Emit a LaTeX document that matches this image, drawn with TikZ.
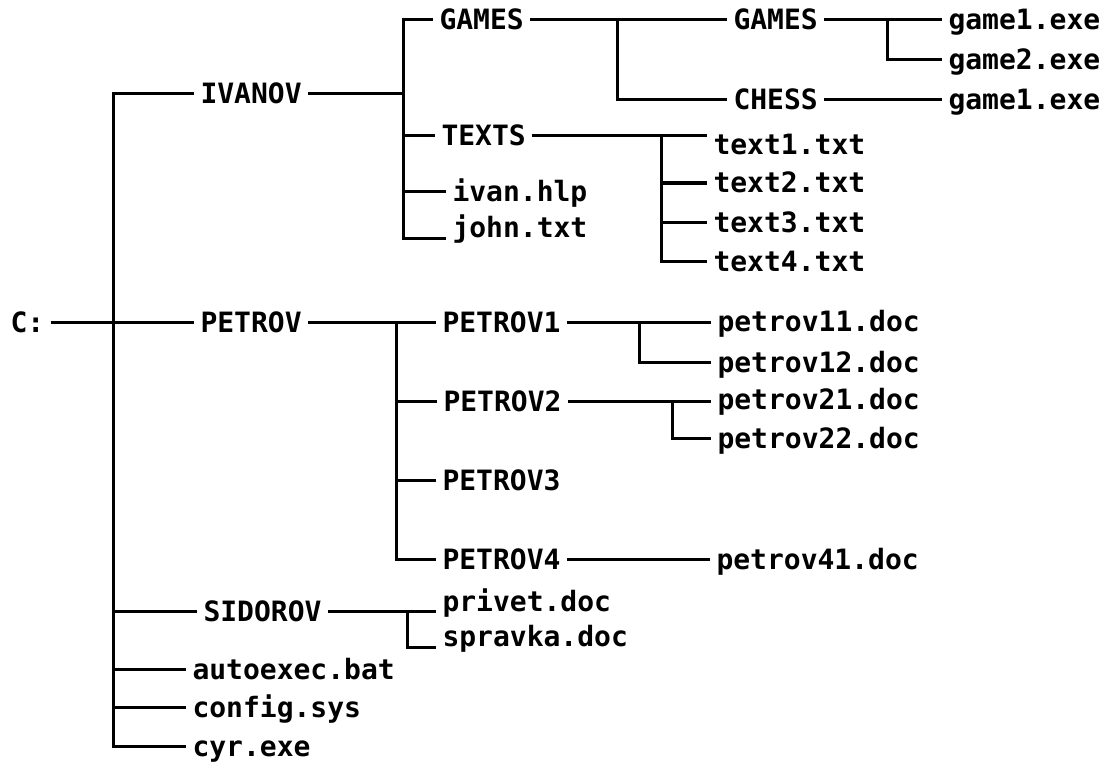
\documentclass[tikz,border=0pt]{standalone}
\usepackage{fontspec}
\newfontfamily\dosfont{DejaVu Sans Mono}
\usetikzlibrary{calc,positioning}

\begin{document}
\begin{tikzpicture}[x=1pt,y=-1pt,line width=3pt,
	entry/.style={anchor=west,inner xsep=5pt,inner ysep=0pt,text height=20pt,text depth=0pt,
		font=\fontsize{28}{30}\selectfont\dosfont\bfseries}
	]
	\useasboundingbox (0,0) rectangle (1106,765);

	% root and first level
	\node[entry] (croot) at (4,322) {C:};
	\node[entry] (ivanov) at (194,94) {IVANOV};
	\node[entry] (petrov) at (194,322) {PETROV};
	\node[entry] (sidorov) at (197,611) {SIDOROV};
	\node[entry] (autoexec) at (186,669) {autoexec.bat};
	\node[entry] (config) at (186,707) {config.sys};
	\node[entry] (cyr) at (186,746) {cyr.exe};

	% IVANOV
	\node[entry] (games) at (433,20) {GAMES};
	\node[entry] (texts) at (435,136) {TEXTS};
	\node[entry] (ivanhlp) at (446,191) {ivan.hlp};
	\node[entry] (john) at (446,227) {john.txt};

	\node[entry] (subgames) at (727,20) {GAMES};
	\node[entry] (chess) at (727,100) {CHESS};
	\node[entry] (gameone) at (942,20) {game1.exe};
	\node[entry] (gametwo) at (942,60) {game2.exe};
	\node[entry] (chessgame) at (942,100) {game1.exe};

	\node[entry] (text1) at (707,144) {text1.txt};
	\node[entry] (text2) at (707,183) {text2.txt};
	\node[entry] (text3) at (707,222) {text3.txt};
	\node[entry] (text4) at (707,261) {text4.txt};

	% PETROV
	\node[entry] (petrov1) at (436,322) {PETROV1};
	\node[entry] (petrov2) at (437,401) {PETROV2};
	\node[entry] (petrov3) at (436,480) {PETROV3};
	\node[entry] (petrov4) at (436,559) {PETROV4};

	\node[entry] (pdoc11) at (711,321) {petrov11.doc};
	\node[entry] (pdoc12) at (711,362) {petrov12.doc};
	\node[entry] (pdoc21) at (711,399) {petrov21.doc};
	\node[entry] (pdoc22) at (711,438) {petrov22.doc};
	\node[entry] (pdoc41) at (710,559) {petrov41.doc};

	% SIDOROV
	\node[entry] (privet) at (436,601) {privet.doc};
	\node[entry] (spravka) at (436,636) {spravka.doc};

	% trunk
	\coordinate (trunk) at (113,322);
	\draw (ivanov.west) -| (trunk) |- (cyr.west);
	\draw (croot.east) -- (petrov.west);
	\foreach \n in {sidorov,autoexec,config}
		\draw (trunk |- \n.west) -- (\n.west);

	% IVANOV branch
	\coordinate (ivbus) at (403,94);
	\draw (ivanov.east) -- (ivbus);
	\draw (games.west) -| (ivbus) |- (john.south west);
	\foreach \n in {texts,ivanhlp}
		\draw (ivbus |- \n.west) -- (\n.west);

	\coordinate (gamesbus) at (617,20);
	\draw (games.east) -- (subgames.west);
	\draw (gamesbus) |- (chess.west);
	\coordinate (subgamesbus) at (887,20);
	\draw (subgames.east) -- (gameone.west);
	\draw (subgamesbus) |- (gametwo.west);
	\draw (chess.east) -- (chessgame.west);

	\coordinate (textsbus) at (661,136);
	\draw (texts.east) -- (texts.east -| text1.west);
	\draw (textsbus) |- (text4.west);
	\foreach \n in {text2,text3}
		\draw (textsbus |- \n.west) -- (\n.west);

	% PETROV branch
	\coordinate (petrovbus) at (396,322);
	\draw (petrov.east) -- (petrov1.west);
	\draw (petrovbus) |- (petrov4.west);
	\foreach \n in {petrov2,petrov3}
		\draw (petrovbus |- \n.west) -- (\n.west);

	\coordinate (ponebus) at (639,322);
	\draw (petrov1.east) -- (petrov1.east -| pdoc11.west);
	\draw (ponebus) |- (pdoc12.west);
	\coordinate (ptwobus) at (672,401);
	\draw (petrov2.east) -- (petrov2.east -| pdoc21.west);
	\draw (ptwobus) |- (pdoc22.west);
	\draw (petrov4.east) -- (pdoc41.west);

	% SIDOROV branch
	\coordinate (sidbus) at (407,608);
	\draw (sidorov.east) -- (sidorov.east -| privet.west);
	\draw (sidbus |- sidorov.east) |- (spravka.south west);

\end{tikzpicture}
\end{document}
